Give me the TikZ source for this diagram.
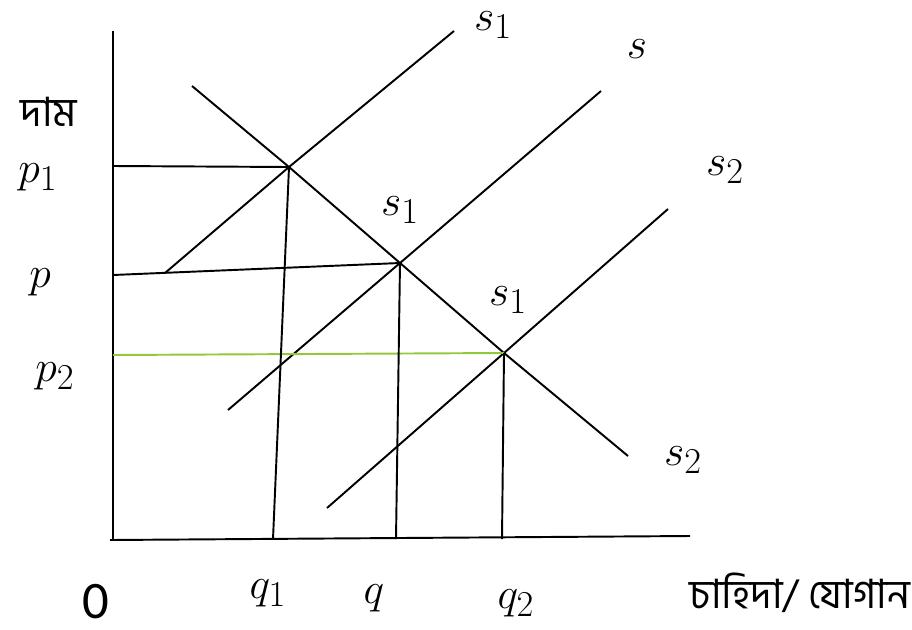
\documentclass[tikz,border=0pt]{standalone}
\usepackage{fontspec}
\newfontfamily\bangla[Script=Bengali]{Hind Siliguri}
\newfontfamily\calibri{Carlito}
\definecolor{pricegreen}{RGB}{146,200,60}
\tikzset{
  lbl/.style={font=\fontsize{32}{38}\selectfont, inner sep=0pt},
  bnlbl/.style={font=\bangla\fontsize{23}{28}\selectfont, inner sep=0pt}
}
\begin{document}
\begin{tikzpicture}[x=0.02cm, y=-0.02cm, line width=1.1pt]
\useasboundingbox (0,0) rectangle (912,629);
% points
\coordinate (top) at (113,31);
\coordinate (O) at (113,540);
\coordinate (xend) at (690,536);
\coordinate (E1) at (289,167);
\coordinate (E0) at (400,263);
\coordinate (E2) at (504,353);
% axes
\draw (top) -- (O);
\draw (110,540) -- (xend);
% demand
\draw (192,86) -- (E1) -- (E0) -- (E2) -- (628,456);
% supply curves
\foreach \xa/\ya/\e/\xb/\yb in {165/273/E1/454/31, 228/410/E0/601/91, 327/508/E2/668/209}{
    \draw (\xa,\ya) -- (\e) -- (\xb,\yb);
}
% price lines
\draw (113,166) -- (E1);
\draw (113,275) -- (E0);
\draw[pricegreen] (113,355) -- (E2);
% quantity lines
\foreach \e/\x in {E1/273, E0/396, E2/502}{
    \draw (\e) -- (\x,539);
}
% labels
\node[bnlbl] (dam) at (49,112) {দাম};
\node[lbl] (p1) at (38,177) {$p_1$};
\node[lbl] (p) at (40,282) {$p$};
\node[lbl] (p2) at (55,376) {$p_2$};
\node[lbl, font=\calibri\fontsize{30}{36}\selectfont] (zero) at (96,602) {0};
\node[lbl] (q1) at (268,593) {$q_1$};
\node[lbl] (q) at (374,598) {$q$};
\node[lbl] (q2) at (516,603) {$q_2$};
\node[bnlbl, anchor=east] (qty) at (911,593) {চাহিদা/ যোগান};
\node[lbl] (s1a) at (493,25) {$s_1$};
\node[lbl] (s) at (637,49) {$s$};
\node[lbl] (s2a) at (725,170) {$s_2$};
\node[lbl] (s1b) at (400,210) {$s_1$};
\node[lbl] (s1c) at (508,300) {$s_1$};
\node[lbl] (s2b) at (683,460) {$s_2$};
\end{tikzpicture}
\end{document}
